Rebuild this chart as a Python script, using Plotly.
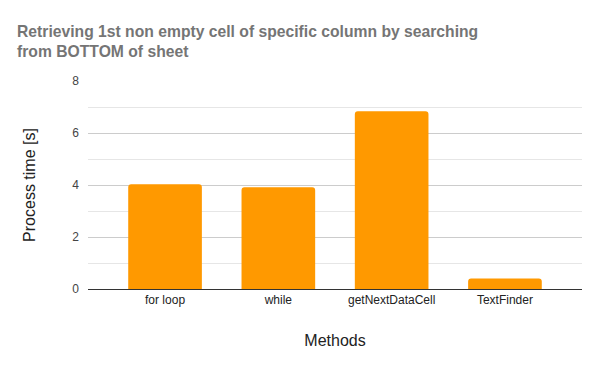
import plotly.graph_objects as go

methods = ["for loop", "while", "getNextDataCell", "TextFinder"]
process_time = [4.03, 3.91, 6.84, 0.40]
y_ticks = [0, 2, 4, 6, 8]

font_family = "Arial, Liberation Sans, sans-serif"

# The page body has an 8px default margin, so the figure is sized to fit the window.
W, H = 592, 363

fig = go.Figure()
fig.add_trace(go.Bar(
    x=list(range(len(methods))),
    y=process_time,
    marker=dict(color="#FF9900", line=dict(width=0)),
    width=0.65,
    hoverinfo="x+y",
))

fig.update_layout(
    width=W, height=H,
    margin=dict(l=80, r=18, t=73, b=82, autoexpand=False),
    paper_bgcolor="white", plot_bgcolor="white",
    barcornerradius=3,
    showlegend=False,
    font=dict(family=font_family, color="#222222"),
    title=dict(
        text="<b>Retrieving 1st non empty cell of specific column by searching<br>from BOTTOM of sheet</b>",
        x=9/W, xanchor="left", xref="container",
        y=1 - 29/H, yanchor="top", yref="container",
        pad=dict(l=0, t=0, r=0, b=0),
        font=dict(family=font_family, size=15.7, color="#757575"),
    ),
    xaxis=dict(
        automargin=False,
        tickmode="array",
        tickvals=list(range(len(methods))),
        ticktext=methods,
        range=[-0.68, 3.68],
        showgrid=False, zeroline=False,
        showline=True, linecolor="#333333", linewidth=1,
        ticks="", tickfont=dict(size=12, color="#222222"),
        title=dict(text="Methods", font=dict(size=16, color="#222222"), standoff=28),
    ),
    yaxis=dict(
        automargin=False,
        range=[0, 8],
        tickmode="array", tickvals=y_ticks,
        showgrid=True, gridcolor="#cccccc", gridwidth=1,
        zeroline=False,
        minor=dict(tickmode="linear", tick0=0, dtick=1, showgrid=True, gridcolor="#e6e6e6", gridwidth=1, ticks=""),
        ticks="", tickfont=dict(size=12, color="#444444"),
        ticklabelstandoff=8,
        title=dict(text="Process time [s]", font=dict(size=16, color="#222222"), standoff=32),
    ),
)

fig.write_html("out.html")
